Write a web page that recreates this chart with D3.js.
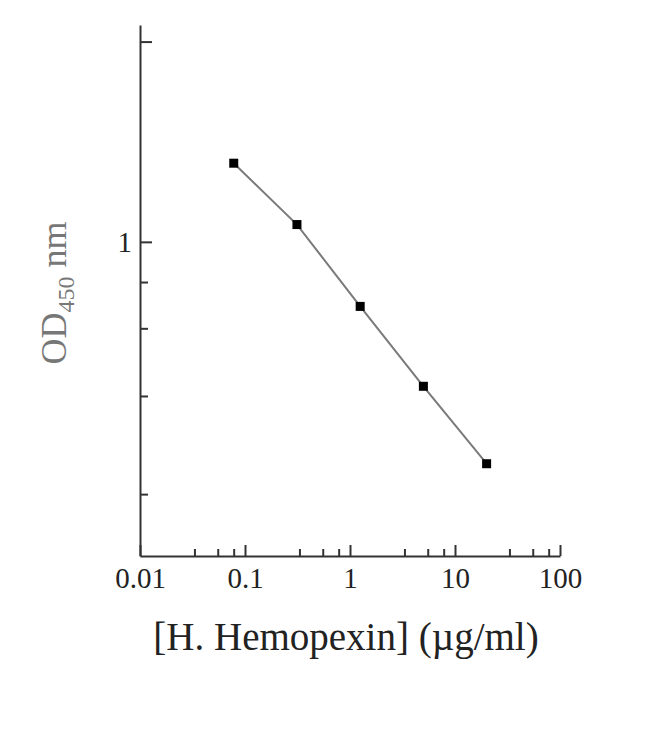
<!DOCTYPE html>
<html>
<head>
<meta charset="utf-8">
<script src="https://cdn.jsdelivr.net/npm/d3@7/dist/d3.min.js"></script>
<style>
  html, body { margin: 0; padding: 0; background: #fff; }
  svg { display: block; }
</style>
</head>
<body>
<svg id="chart" width="650" height="731"></svg>
<script>
// ---- data ----
const concentrations = [0.078125, 0.3125, 1.25, 5, 20];      // µg/ml
const odValues = [2.47, 1.22, 0.476, 0.19, 0.078];            // OD450
const xMajorTicks = [0.01, 0.1, 1, 10, 100];
const xTickLabels = ["0.01", "0.1", "1", "10", "100"];
const xMinorTicks = [0.033, 0.055, 0.078, 0.33, 0.55, 0.78, 3.3, 5.5, 7.8, 33, 55, 78];
const yMajorTicks = [1, 10];
const yTickLabels = ["1", ""];
const yMinorTicks = [0.63, 0.37, 0.17, 0.055];
const xTitle = "[H. Hemopexin] (\u00b5g/ml)";

// ---- layout ----
const svg = d3.select("#chart");
const plotLeft = 140, plotRight = 560, plotTop = 25, plotBottom = 556;

const x = d3.scaleLog().domain([0.01, 100]).range([plotLeft, plotRight]);
const y = d3.scaleLog().domain([0.027, 12.1]).range([plotBottom, plotTop]);

const axisColor = "#333";
const font = "'Liberation Serif', 'Times New Roman', serif";

// x axis
const gx = svg.append("g").attr("transform", `translate(0,${plotBottom})`);
gx.call(d3.axisBottom(x).tickValues(xMajorTicks)
    .tickFormat((d, i) => xTickLabels[i]).tickSizeInner(-11).tickSizeOuter(0).tickPadding(11));
gx.append("g").call(d3.axisBottom(x).tickValues(xMinorTicks).tickFormat("").tickSizeInner(-7).tickSizeOuter(0))
  .select(".domain").remove();

// y axis
const gy = svg.append("g").attr("transform", `translate(${plotLeft},0)`);
gy.call(d3.axisLeft(y).tickValues(yMajorTicks)
    .tickFormat((d, i) => yTickLabels[i]).tickSizeInner(-12).tickSizeOuter(0).tickPadding(8));
gy.append("g").call(d3.axisLeft(y).tickValues(yMinorTicks).tickFormat("").tickSizeInner(-8).tickSizeOuter(0))
  .select(".domain").remove();

svg.selectAll(".domain").attr("stroke", axisColor).attr("stroke-width", 2);
svg.selectAll(".tick line").attr("stroke", axisColor).attr("stroke-width", 2);
svg.selectAll(".tick text").attr("font-family", font).attr("font-size", 29).attr("fill", "#222");

// line
const pts = concentrations.map((c, i) => [c, odValues[i]]);
svg.append("path")
  .datum(pts)
  .attr("fill", "none")
  .attr("stroke", "#7a7a7a")
  .attr("stroke-width", 2)
  .attr("d", d3.line().x(d => x(d[0])).y(d => y(d[1])));

// markers
const ms = 9;
svg.selectAll("rect.pt").data(pts).enter().append("rect")
  .attr("class", "pt")
  .attr("x", d => x(d[0]) - ms / 2)
  .attr("y", d => y(d[1]) - ms / 2)
  .attr("width", ms).attr("height", ms)
  .attr("fill", "#000");

// x title
svg.append("text")
  .attr("x", 346).attr("y", 650)
  .attr("text-anchor", "middle")
  .attr("font-family", font).attr("font-size", 39).attr("fill", "#222")
  .text(xTitle);

// y title
const yt = svg.append("text")
  .attr("transform", "translate(66,293) rotate(-90)")
  .attr("text-anchor", "middle")
  .attr("font-family", font).attr("font-size", 36).attr("fill", "#777");
yt.append("tspan").text("OD");
yt.append("tspan").attr("font-size", 24).attr("dy", 8).text("450");
yt.append("tspan").attr("dy", -8).text(" nm");
</script>
</body>
</html>
